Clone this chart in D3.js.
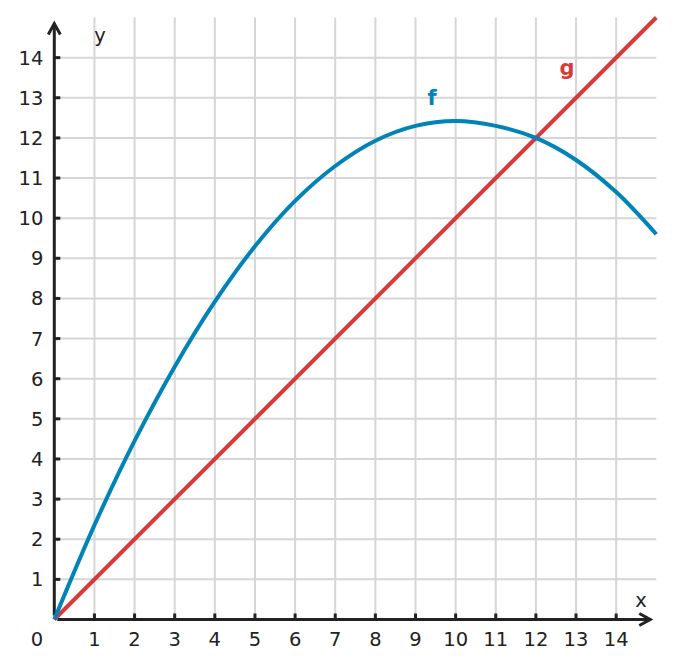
<!DOCTYPE html>
<html>
<head>
<meta charset="utf-8">
<script src="https://d3js.org/d3.v7.min.js"></script>
<style>
  body { margin: 0; background: #fff; }
  svg { display: block; font-family: "DejaVu Sans", sans-serif; }
</style>
</head>
<body>
<div id="container"></div>
<script>
// values
var xTicks = [1, 2, 3, 4, 5, 6, 7, 8, 9, 10, 11, 12, 13, 14];
var yTicks = [1, 2, 3, 4, 5, 6, 7, 8, 9, 10, 11, 12, 13, 14];
var fX = [0, 1, 2, 3, 4, 5, 6, 7, 8, 9, 10, 11, 12, 13, 14, 15];
var fY = [0, 2.35, 4.45, 6.3, 7.92, 9.3, 10.43, 11.3, 11.93, 12.3, 12.42, 12.3, 12.0, 11.45, 10.65, 9.6];
var gX = [0, 15];
var gY = [0, 15];

var width = 674, height = 668;

var x = d3.scaleLinear().domain([0, 15]).range([54.3, 656.3]);
var y = d3.scaleLinear().domain([0, 15]).range([619.5, 17.5]);

var svg = d3.select("#container")
  .append("svg")
  .attr("width", width)
  .attr("height", height);

// grid
var grid = svg.append("g")
    .attr("stroke", "#d6d6d6")
    .attr("stroke-width", 2);

grid.selectAll("line.v")
  .data(xTicks)
  .join("line")
    .attr("class", "v")
    .attr("x1", d => x(d)).attr("x2", d => x(d))
    .attr("y1", y(0)).attr("y2", y(15));

grid.selectAll("line.h")
  .data(yTicks)
  .join("line")
    .attr("class", "h")
    .attr("x1", x(0)).attr("x2", x(15))
    .attr("y1", d => y(d)).attr("y2", d => y(d));

// axes
var axes = svg.append("g")
    .attr("stroke", "#222")
    .attr("stroke-width", 3)
    .attr("fill", "none");

axes.append("line")
    .attr("x1", x(0) + 3).attr("x2", x(14.85))
    .attr("y1", y(0)).attr("y2", y(0));
axes.append("line")
    .attr("x1", x(0)).attr("x2", x(0))
    .attr("y1", y(0) - 4).attr("y2", y(14.85));

// arrow heads
axes.append("path")
    .attr("d", `M${x(14.85) - 11},${y(0) - 6} L${x(14.85)},${y(0)} L${x(14.85) - 11},${y(0) + 6}`);
axes.append("path")
    .attr("d", `M${x(0) - 6},${y(14.85) + 11} L${x(0)},${y(14.85)} L${x(0) + 6},${y(14.85) + 11}`);

// tick marks
axes.selectAll("line.xt")
  .data(xTicks)
  .join("line")
    .attr("class", "xt")
    .attr("x1", d => x(d)).attr("x2", d => x(d))
    .attr("y1", y(0)).attr("y2", y(0) - 6);

axes.selectAll("line.yt")
  .data(yTicks)
  .join("line")
    .attr("class", "yt")
    .attr("x1", x(0)).attr("x2", x(0) + 6)
    .attr("y1", d => y(d)).attr("y2", d => y(d));

// tick labels
var labels = svg.append("g")
    .attr("fill", "#222")
    .attr("font-size", 19.5);

labels.selectAll("text.xl")
  .data(xTicks)
  .join("text")
    .attr("class", "xl")
    .attr("x", d => x(d))
    .attr("y", y(0) + 26)
    .attr("text-anchor", "middle")
    .text(d => d);

labels.selectAll("text.yl")
  .data(yTicks)
  .join("text")
    .attr("class", "yl")
    .attr("x", x(0) - 11)
    .attr("y", d => y(d))
    .attr("dy", "0.36em")
    .attr("text-anchor", "end")
    .text(d => d);

labels.append("text")
    .attr("x", 37).attr("y", y(0) + 26)
    .attr("text-anchor", "middle")
    .text("0");

labels.append("text")
    .attr("x", 100).attr("y", 42)
    .attr("text-anchor", "middle")
    .text("y");

labels.append("text")
    .attr("x", 641).attr("y", 607)
    .attr("text-anchor", "middle")
    .text("x");

// curves
var line = d3.line()
    .x(d => x(d[0]))
    .y(d => y(d[1]));

svg.append("path")
    .datum(d3.zip(gX, gY))
    .attr("fill", "none")
    .attr("stroke", "#d63b3b")
    .attr("stroke-width", 4)
    .attr("d", line);

svg.append("path")
    .datum(d3.zip(fX, fY))
    .attr("fill", "none")
    .attr("stroke", "#0083b6")
    .attr("stroke-width", 4)
    .attr("d", line.curve(d3.curveCatmullRom.alpha(0.5)));

svg.append("text")
    .attr("x", 432).attr("y", 105)
    .attr("text-anchor", "middle")
    .attr("font-size", 21)
    .attr("font-weight", "bold")
    .attr("fill", "#0083b6")
    .text("f");

svg.append("text")
    .attr("x", 567).attr("y", 75)
    .attr("text-anchor", "middle")
    .attr("font-size", 21)
    .attr("font-weight", "bold")
    .attr("fill", "#d63b3b")
    .text("g");
</script>
</body>
</html>
